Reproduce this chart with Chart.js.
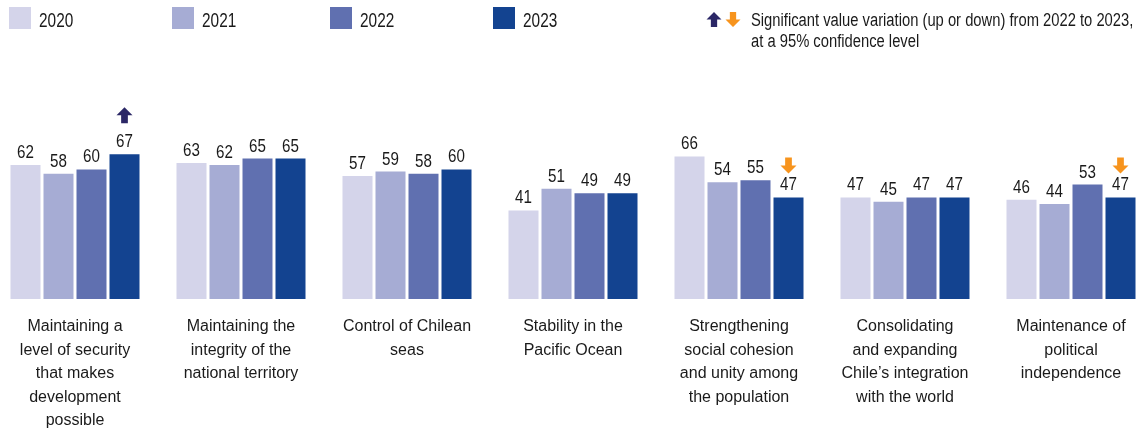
<!DOCTYPE html>
<html>
<head>
<meta charset="utf-8">
<script src="https://cdn.jsdelivr.net/npm/chart.js@4.4.1/dist/chart.umd.min.js"></script>
<style>
  html, body { margin:0; padding:0; background:#fff; overflow:hidden; width:1139px; height:432px; }
  #wrap { position:absolute; left:-8px; top:0; width:1162px; height:432px; }
</style>
</head>
<body>
<div id="wrap"><canvas id="c" width="1162" height="432"></canvas></div>
<script>
const categories = [
  ['Maintaining a','level of security','that makes','development','possible'],
  ['Maintaining the','integrity of the','national territory'],
  ['Control of Chilean','seas'],
  ['Stability in the','Pacific Ocean'],
  ['Strengthening','social cohesion','and unity among','the population'],
  ['Consolidating','and expanding','Chile\u2019s integration','with the world'],
  ['Maintenance of','political','independence']
];
const years = ['2020','2021','2022','2023'];
const values2020 = [62, 63, 57, 41, 66, 47, 46];
const values2021 = [58, 62, 59, 51, 54, 45, 44];
const values2022 = [60, 65, 58, 49, 55, 47, 53];
const values2023 = [67, 65, 60, 49, 47, 47, 47];
const change2023 = ['up', null, null, null, 'down', null, 'down'];
const legendNote = ['Significant value variation (up or down) from 2022 to 2023,', 'at a 95% confidence level'];

const colors = ['#d4d4ea', '#a6acd4', '#6070b0', '#134390'];
const UP_COLOR = '#2b2766';
const DOWN_COLOR = '#f7941d';
const OFF = 8; // canvas is shifted 8px left of the page
const SANS = '"Liberation Sans", Arial, sans-serif';
const TEXT = '#1a1a1a';

// draw text horizontally condensed (narrow look)
function narrowText(ctx, t, x, y, sx, align) {
  ctx.save();
  ctx.translate(x, y);
  ctx.scale(sx, 1);
  ctx.textAlign = align;
  ctx.fillText(t, 0, 0);
  ctx.restore();
}

function drawArrow(ctx, cx, top, dir, color, w, h) {
  const headH = h * 0.5, stemW = w * 0.42;
  ctx.save();
  ctx.fillStyle = color;
  ctx.beginPath();
  if (dir === 'up') {
    ctx.moveTo(cx, top);
    ctx.lineTo(cx + w/2, top + headH);
    ctx.lineTo(cx + stemW/2, top + headH);
    ctx.lineTo(cx + stemW/2, top + h);
    ctx.lineTo(cx - stemW/2, top + h);
    ctx.lineTo(cx - stemW/2, top + headH);
    ctx.lineTo(cx - w/2, top + headH);
  } else {
    ctx.moveTo(cx, top + h);
    ctx.lineTo(cx + w/2, top + h - headH);
    ctx.lineTo(cx + stemW/2, top + h - headH);
    ctx.lineTo(cx + stemW/2, top);
    ctx.lineTo(cx - stemW/2, top);
    ctx.lineTo(cx - stemW/2, top + h - headH);
    ctx.lineTo(cx - w/2, top + h - headH);
  }
  ctx.closePath();
  ctx.fill();
  ctx.restore();
}

const decorations = {
  id: 'decorations',
  afterDatasetsDraw(chart) {
    const ctx = chart.ctx;
    ctx.save();
    ctx.textBaseline = 'alphabetic';
    // value labels
    ctx.fillStyle = TEXT;
    ctx.font = '18.5px ' + SANS;
    chart.data.datasets.forEach((ds, di) => {
      const meta = chart.getDatasetMeta(di);
      meta.data.forEach((bar, i) => {
        narrowText(ctx, String(ds.data[i]), bar.x, bar.y - 7, 0.82, 'center');
      });
    });
    // significance arrows
    const meta3 = chart.getDatasetMeta(3);
    change2023.forEach((c, i) => {
      if (!c) return;
      const bar = meta3.data[i];
      if (c === 'up') drawArrow(ctx, bar.x, bar.y - 31 - 16, 'up', UP_COLOR, 16, 16);
      else drawArrow(ctx, bar.x, bar.y - 24 - 16, 'down', DOWN_COLOR, 16, 16);
    });
    // category labels
    const xs = chart.scales.x;
    ctx.font = '16px ' + SANS;
    ctx.fillStyle = TEXT;
    ctx.textAlign = 'center';
    categories.forEach((lines, i) => {
      const cx = xs.getPixelForValue(i);
      lines.forEach((ln, k) => ctx.fillText(ln, cx, 331 + k * 23.5));
    });
    // legend
    ctx.font = '20px ' + SANS;
    const legX = [9, 172, 330, 493];
    years.forEach((y, i) => {
      ctx.fillStyle = colors[i];
      ctx.fillRect(legX[i] + OFF, 7, 22, 22);
      ctx.fillStyle = TEXT;
      narrowText(ctx, y, legX[i] + 30 + OFF, 26.7, 0.77, 'left');
    });
    drawArrow(ctx, 714 + OFF, 12, 'up', UP_COLOR, 15, 15);
    drawArrow(ctx, 733 + OFF, 12, 'down', DOWN_COLOR, 15, 15);
    ctx.font = '18px ' + SANS;
    ctx.fillStyle = TEXT;
    legendNote.forEach((t, k) => narrowText(ctx, t, 751 + OFF, 26 + k * 21, 0.82, 'left'));
    ctx.restore();
  }
};

new Chart(document.getElementById('c'), {
  type: 'bar',
  data: {
    labels: categories.map(l => l.join(' ')),
    datasets: years.map((y, i) => ({
      label: y,
      data: [values2020, values2021, values2022, values2023][i],
      backgroundColor: colors[i],
      borderWidth: 0,
      categoryPercentage: 132 / 166,
      barPercentage: 30 / 33
    }))
  },
  options: {
    responsive: false,
    devicePixelRatio: 1,
    animation: false,
    layout: { padding: { top: 83, bottom: 133, left: 0, right: 0 } },
    plugins: { legend: { display: false }, tooltip: { enabled: false } },
    scales: {
      x: { display: false, offset: true },
      y: { display: false, min: 0, max: 100 }
    }
  },
  plugins: [decorations]
});
</script>
</body>
</html>
